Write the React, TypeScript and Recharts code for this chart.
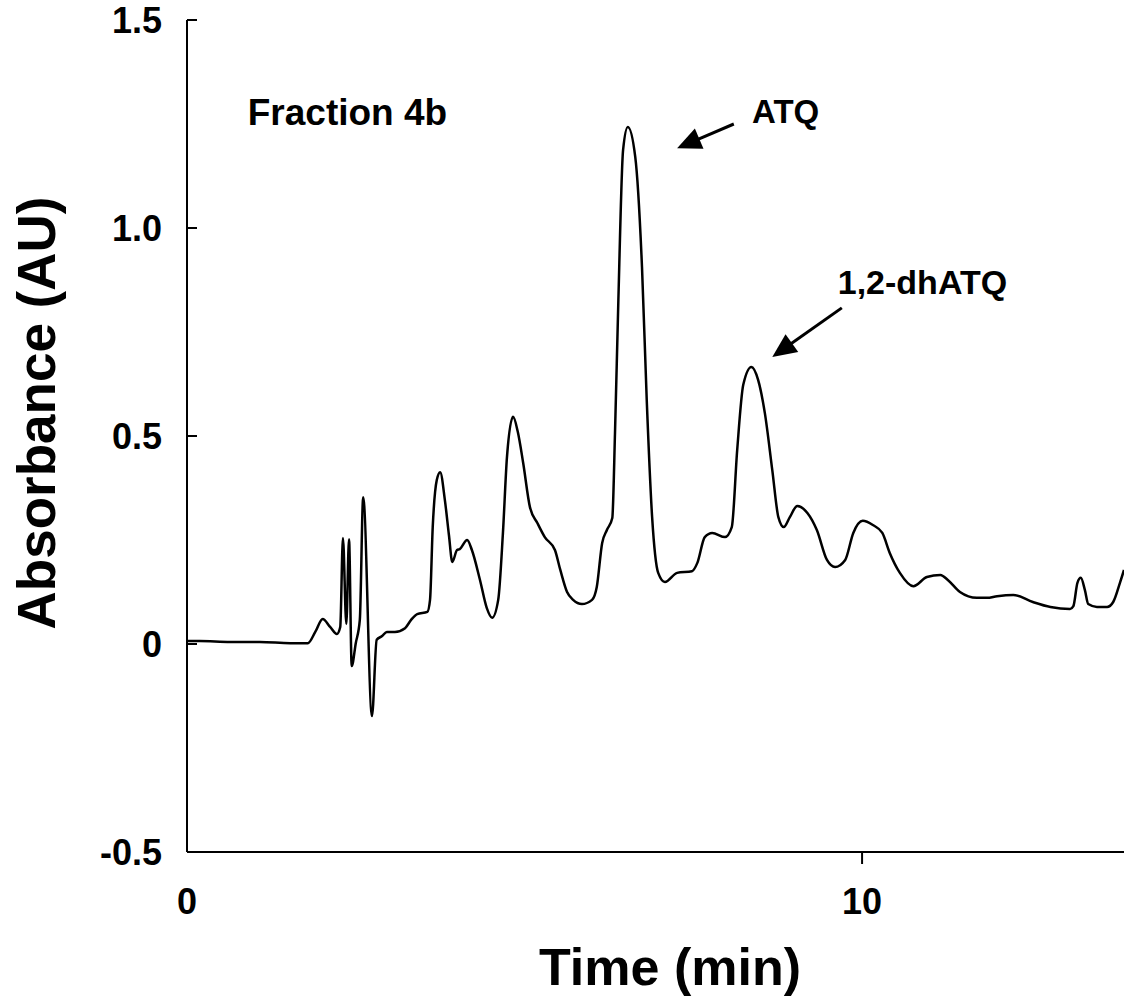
import React from 'react';
import { LineChart, Line, XAxis, YAxis, ReferenceLine, ReferenceDot } from 'recharts';

// Chromatogram trace (time in min, absorbance in AU)
const timeMin = [
  0.0, 0.19, 0.64, 1.08, 1.53, 1.79, 1.9, 2.01, 2.12, 2.22, 2.27, 2.31, 2.36, 2.4, 2.44, 2.5, 2.56, 2.61,
  2.74, 2.81, 2.89, 2.96, 3.08, 3.23, 3.32, 3.41, 3.56, 3.6, 3.64, 3.7, 3.75, 3.82, 3.88, 3.93, 4.0, 4.04,
  4.15, 4.22, 4.34, 4.44, 4.52, 4.61, 4.68, 4.74, 4.83, 4.9, 4.98, 5.08, 5.19, 5.3, 5.45, 5.53, 5.63, 5.72,
  5.85, 6.0, 6.07, 6.15, 6.22, 6.3, 6.34, 6.39, 6.46, 6.53, 6.64, 6.74, 6.81, 6.89, 6.98, 7.08, 7.26, 7.48,
  7.56, 7.67, 7.78, 7.97, 8.07, 8.15, 8.24, 8.36, 8.46, 8.56, 8.67, 8.76, 8.84, 8.93, 9.04, 9.19, 9.33, 9.48,
  9.6, 9.75, 9.87, 10.01, 10.16, 10.3, 10.41, 10.56, 10.76, 10.96, 11.16, 11.27, 11.45, 11.7, 11.85, 12.0,
  12.24, 12.53, 12.79, 13.08, 13.13, 13.19, 13.24, 13.3, 13.35, 13.48, 13.63, 13.72, 13.82, 13.88,
];
const absorbanceAU = [
  0.007, 0.007, 0.005, 0.005, 0.002, 0.002, 0.029, 0.06, 0.041, 0.024, 0.041, 0.255, 0.048, 0.252, -0.053, 0.002, 0.058, 0.353,
  -0.173, 0.01, 0.019, 0.029, 0.029, 0.038, 0.058, 0.072, 0.077, 0.106, 0.281, 0.394, 0.413, 0.346, 0.262, 0.197, 0.226, 0.228,
  0.25, 0.226, 0.154, 0.087, 0.063, 0.106, 0.267, 0.45, 0.546, 0.51, 0.435, 0.329, 0.291, 0.257, 0.226, 0.178, 0.125, 0.106,
  0.096, 0.106, 0.137, 0.243, 0.274, 0.303, 0.507, 0.827, 1.188, 1.243, 1.171, 0.906, 0.587, 0.305, 0.171, 0.149, 0.171, 0.175,
  0.195, 0.257, 0.267, 0.257, 0.281, 0.466, 0.623, 0.666, 0.635, 0.555, 0.418, 0.305, 0.281, 0.305, 0.332, 0.315, 0.274, 0.202,
  0.185, 0.202, 0.267, 0.296, 0.286, 0.267, 0.219, 0.171, 0.139, 0.161, 0.166, 0.154, 0.125, 0.111, 0.111, 0.115,
  0.118, 0.101, 0.089, 0.084, 0.091, 0.147, 0.159, 0.13, 0.096, 0.089, 0.089, 0.101, 0.147, 0.178,
];

const xTicks = [0, 10];
const yTicks = [-0.5, 0, 0.5, 1.0, 1.5];
const xDomain = [0, 13.88];
const yDomain = [-0.5, 1.5];

// Annotations (data coordinates)
const noteLabels = ['Fraction 4b', 'ATQ', '1,2-dhATQ'];
const noteTime = [0.9, 8.37, 9.64];
const noteAbs = [1.248, 1.252, 0.841];
const noteSize = [37, 33, 34];

const arrowFromTime = [8.1, 9.7];
const arrowFromAbs = [1.25, 0.808];
const arrowToTime = [7.26, 8.67];
const arrowToAbs = [1.192, 0.69];

const FONT = '"Liberation Sans", Arial, Helvetica, sans-serif';
const Y_AXIS_WIDTH = 187;

const data = timeMin.map((t, i) => ({ t, a: absorbanceAU[i] }));

const YTick = (props: any) => {
  const { y, payload } = props;
  const v = payload.value;
  const label = v === 0 ? '0' : v.toFixed(1);
  const axisX = Y_AXIS_WIDTH;
  return (
    <g>
      <line x1={axisX} x2={axisX + 10} y1={y} y2={y} stroke="#000" strokeWidth={2} />
      <text x={axisX - 25} y={y} dy="0.355em" textAnchor="end" fontFamily={FONT} fontWeight="bold" fontSize={36} fill="#000">
        {label}
      </text>
    </g>
  );
};

const XTick = (props: any) => {
  const { x, y, payload } = props;
  const v = payload.value;
  const axisY = y - 36;
  return (
    <g>
      {v !== 0 && <line x1={x} x2={x} y1={axisY} y2={axisY + 12} stroke="#000" strokeWidth={2} />}
      <text x={x} y={y} dy="0.71em" textAnchor="middle" fontFamily={FONT} fontWeight="bold" fontSize={36} fill="#000">
        {String(v)}
      </text>
    </g>
  );
};

const ArrowShape = (props: any) => {
  const { x1, y1, x2, y2 } = props;
  const dx = x2 - x1;
  const dy = y2 - y1;
  const len = Math.sqrt(dx * dx + dy * dy) || 1;
  const ux = dx / len;
  const uy = dy / len;
  const headLen = 24;
  const halfW = 11;
  const bx = x2 - ux * headLen;
  const by = y2 - uy * headLen;
  const px = -uy;
  const py = ux;
  const pts = `${x2},${y2} ${bx + px * halfW},${by + py * halfW} ${bx - px * halfW},${by - py * halfW}`;
  return (
    <g>
      <line x1={x1} y1={y1} x2={bx + ux * 2} y2={by + uy * 2} stroke="#000" strokeWidth={3} />
      <polygon points={pts} fill="#000" />
    </g>
  );
};

const makeTextShape = (label: string, size: number) => (props: any) => (
  <text x={props.cx} y={props.cy} textAnchor="start" fontFamily={FONT} fontWeight="bold" fontSize={size} fill="#000">
    {label}
  </text>
);

export default function App() {
  return (
    <div style={{ position: 'absolute', left: 0, top: 0, background: '#fff' }}>
      <LineChart width={1124} height={1003} data={data} margin={{ top: 20, right: 0, bottom: 0, left: 0 }}>
        <XAxis
          dataKey="t"
          type="number"
          domain={xDomain}
          ticks={xTicks}
          allowDataOverflow
          height={151}
          axisLine={{ stroke: '#000', strokeWidth: 2 }}
          tickLine={false}
          tickSize={12}
          tickMargin={24}
          tick={<XTick />}
          label={(p: any) => {
            const vb = p.viewBox || {};
            return (
              <text
                x={670}
                y={(vb.y ?? 852) + 133}
                textAnchor="middle"
                fontFamily={FONT}
                fontWeight="bold"
                fontSize={52}
                fill="#000"
              >
                Time (min)
              </text>
            );
          }}
        />
        <XAxis
          xAxisId="top"
          dataKey="t"
          type="number"
          orientation="top"
          domain={xDomain}
          allowDataOverflow
          height={0}
          tick={false}
          tickLine={false}
          axisLine={{ stroke: '#000', strokeWidth: 2 }}
        />
        <YAxis
          type="number"
          domain={yDomain}
          ticks={yTicks}
          allowDataOverflow
          width={Y_AXIS_WIDTH}
          axisLine={{ stroke: '#000', strokeWidth: 2 }}
          tickLine={false}
          tickSize={10}
          tickMargin={15}
          tick={<YTick />}
          label={(p: any) => {
            const vb = p.viewBox || {};
            const cx = (vb.x ?? 0) + 36;
            const cy = 413;
            return (
              <text
                x={cx}
                y={cy}
                transform={`rotate(-90, ${cx}, ${cy})`}
                textAnchor="middle"
                dominantBaseline="central"
                fontFamily={FONT}
                fontWeight="bold"
                fontSize={53}
                fill="#000"
              >
                Absorbance (AU)
              </text>
            );
          }}
        />
        <Line
          type="monotone"
          dataKey="a"
          stroke="#000"
          strokeWidth={2.5}
          dot={false}
          activeDot={false}
          isAnimationActive={false}
        />
        {arrowFromTime.map((ft, i) => (
          <ReferenceLine
            key={`arrow-${i}`}
            segment={[
              { x: ft, y: arrowFromAbs[i] },
              { x: arrowToTime[i], y: arrowToAbs[i] },
            ]}
            ifOverflow="visible"
            shape={ArrowShape}
          />
        ))}
        {noteLabels.map((lab, i) => (
          <ReferenceDot
            key={`note-${i}`}
            x={noteTime[i]}
            y={noteAbs[i]}
            r={1}
            ifOverflow="visible"
            shape={makeTextShape(lab, noteSize[i])}
          />
        ))}
      </LineChart>
    </div>
  );
}
